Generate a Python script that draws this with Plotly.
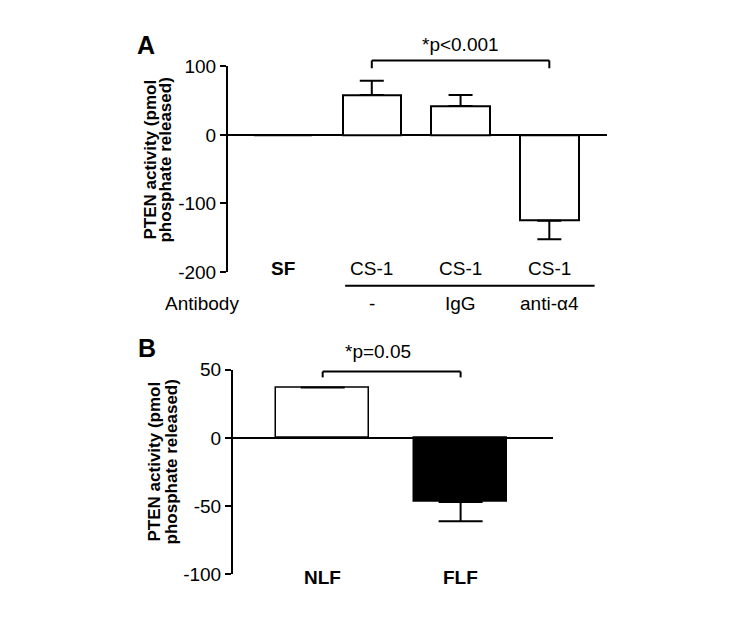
import plotly.graph_objects as go

# Panel A data
cats_a = ['SF', 'CS-1 -', 'CS-1 IgG', 'CS-1 anti-a4']
labels_a = ['<b>SF</b>', 'CS-1', 'CS-1', 'CS-1']
antibody_a = ['', '-', 'IgG', 'anti-α4']
vals_a = [0, 58, 42, -125]
err_up_a = [0, 21, 16, 0]
err_down_a = [0, 0, 0, 27]
ticks_a = [-200, -100, 0, 100]

# Panel B data
cats_b = ['NLF', 'FLF']
vals_b = [37, -47]
err_up_b = [0, 0]
err_down_b = [0, 14]
colors_b = ['white', 'black']
ticks_b = [-100, -50, 0, 50]

FONT = 'Liberation Sans, Arial, sans-serif'

fig = go.Figure()

xa = list(range(len(cats_a)))
xb = list(range(len(cats_b)))

fig.add_trace(go.Bar(
    x=xa, y=vals_a, width=0.66,
    marker=dict(color='white', line=dict(color='black', width=2)),
    error_y=dict(type='data', symmetric=False, array=err_up_a, arrayminus=err_down_a,
                 color='black', thickness=2, width=12),
    xaxis='x', yaxis='y', showlegend=False))

fig.add_trace(go.Bar(
    x=xb, y=vals_b, width=0.67,
    marker=dict(color=colors_b, line=dict(color='black', width=1.5)),
    error_y=dict(type='data', symmetric=False, array=err_up_b, arrayminus=err_down_b,
                 color='black', thickness=2, width=22),
    xaxis='x2', yaxis='y2', showlegend=False))

yax = dict(showline=True, linecolor='black', linewidth=2, ticks='outside', ticklen=6,
           tickwidth=2, tickcolor='black', showgrid=False, zeroline=True,
           zerolinecolor='black', zerolinewidth=2,
           tickfont=dict(family=FONT, size=19, color='black'))
xax = dict(showline=False, showticklabels=False, ticks='', showgrid=False, zeroline=False)

fig.update_layout(
    width=750, height=620,
    margin=dict(l=0, r=0, t=0, b=0),
    paper_bgcolor='white', plot_bgcolor='white',
    bargap=0,
    xaxis=dict(xax, domain=[0.2933, 0.7987], range=[-0.62, 3.65], anchor='y'),
    yaxis=dict(yax, domain=[0.5758, 0.9194], range=[-200, 100], tickvals=ticks_a,
               ticktext=[str(v) for v in ticks_a], anchor='x'),
    xaxis2=dict(xax, domain=[0.3, 0.7267], range=[-0.65, 1.67], anchor='y2'),
    yaxis2=dict(yax, domain=[0.0710, 0.4129], range=[-100, 50], tickvals=ticks_b,
                ticktext=[str(v) for v in ticks_b], anchor='x2',
                zerolinewidth=1.5),
)

ann = []
txt = dict(family=FONT, size=19, color='black')
mid = dict(showarrow=False, xanchor='center', yanchor='middle')
# category labels
for i, lab in enumerate(labels_a):
    ann.append(dict(mid, x=i, y=0.5823, xref='x', yref='paper', text=lab, font=txt))
for i, lab in enumerate(antibody_a):
    if lab:
        ann.append(dict(mid, x=i, y=0.5242, xref='x', yref='paper', text=lab, font=txt))
ann.append(dict(mid, x=0.2587, y=0.5242, xref='paper', yref='paper', text='Antibody', font=txt))
for i, lab in enumerate(cats_b):
    ann.append(dict(mid, x=i, y=0.0661, xref='x2', yref='paper', text='<b>' + lab + '</b>',
                    font=txt))

# p values
ann.append(dict(mid, x=2, y=0.9565, xref='x', yref='paper', text='*p<0.001', font=txt))
ann.append(dict(mid, x=0.4, y=0.4435, xref='x2', yref='paper', text='*p=0.05', font=txt))

# panel letters
ann.append(dict(mid, x=0.184, y=0.9548, xref='paper', yref='paper', text='<b>A</b>',
                font=dict(family=FONT, size=25, color='black')))
ann.append(dict(mid, x=0.1853, y=0.4484, xref='paper', yref='paper', text='<b>B</b>',
                font=dict(family=FONT, size=25, color='black')))

# y titles, one annotation per line
tfont = dict(family=FONT, size=17, color='black')
title_lines = ['<b>PTEN activity (pmol</b>', '<b>phosphate released)</b>']
for tx, ty, lines_x in [(0, 0.7629, [0.19, 0.21]), (0, 0.2597, [0.1947, 0.2173])]:
    for lx, t in zip(lines_x, title_lines):
        ann.append(dict(mid, x=lx, y=ty, xref='paper', yref='paper', text=t, textangle=-90,
                        font=tfont))
fig.update_layout(annotations=ann)

line = dict(color='black', width=2)
shapes = [
    # bracket A
    dict(type='line', xref='x', yref='paper', x0=1, x1=3, y0=0.929, y1=0.929, line=line),
    dict(type='line', xref='x', yref='paper', x0=1, x1=1, y0=0.929, y1=0.9161, line=line),
    dict(type='line', xref='x', yref='paper', x0=3, x1=3, y0=0.929, y1=0.9161, line=line),
    # line under CS-1
    dict(type='line', xref='x', yref='paper', x0=0.70, x1=3.51, y0=0.5532, y1=0.5532, line=line),
    # bracket B
    dict(type='line', xref='x2', yref='paper', x0=0, x1=1, y0=0.4097, y1=0.4097, line=line),
    dict(type='line', xref='x2', yref='paper', x0=0, x1=0, y0=0.4097, y1=0.4, line=line),
    dict(type='line', xref='x2', yref='paper', x0=1, x1=1, y0=0.4097, y1=0.4, line=line),
]
fig.update_layout(shapes=shapes)

fig.write_html("out.html")
